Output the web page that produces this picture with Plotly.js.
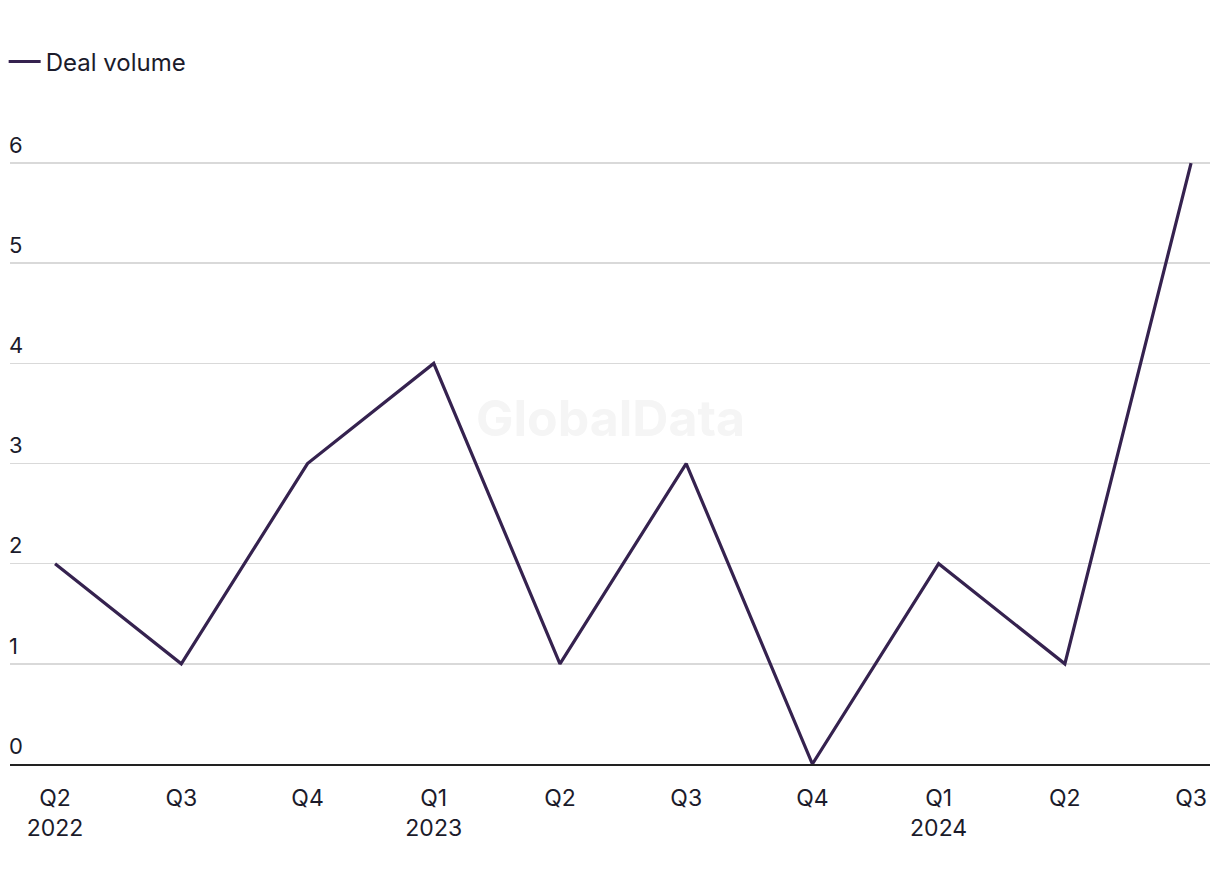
<!DOCTYPE html>
<html>
<head>
<meta charset="utf-8">
<script src="https://cdn.plot.ly/plotly-3.0.1.min.js"></script>
<style>html,body{margin:0;padding:0;background:#fff;}#chart{width:1220px;height:884px;}</style>
</head>
<body>
<div id="chart"></div>
<script>
const categories = ["Q2<br>2022","Q3","Q4","Q1<br>2023","Q2","Q3","Q4","Q1<br>2024","Q2","Q3"];
const dealVolume = [2,1,3,4,1,3,0,2,1,6];
const seriesName = "Deal volume";
const xIdx = categories.map((_, i) => i);

const trace = {
  x: xIdx,
  y: dealVolume,
  type: "scatter",
  mode: "lines",
  name: seriesName,
  line: {color: "#35224f", width: 3.2},
  hoverinfo: "skip"
};

const layout = {
  width: 1220,
  height: 884,
  margin: {l: 10, r: 10, t: 118, b: 120},
  paper_bgcolor: "#ffffff",
  plot_bgcolor: "#ffffff",
  font: {family: "Inter, 'Noto Sans', sans-serif", size: 22, color: "#1b1b2b"},
  showlegend: true,
  legend: {
    orientation: "h", xref: "container", yref: "container",
    x: 0.003, xanchor: "left", y: 0.93, yanchor: "middle",
    itemwidth: 32,
    font: {size: 24, color: "#1b1b2b"}, bgcolor: "rgba(0,0,0,0)"
  },
  xaxis: {
    range: [-0.357, 9.15],
    tickmode: "array",
    tickvals: xIdx,
    ticktext: categories,
    showgrid: false,
    zeroline: false,
    showline: true,
    linecolor: "#222222",
    linewidth: 2,
    ticks: "",
    automargin: false,
    ticklabelstandoff: 12,
    tickfont: {size: 23, color: "#1b1b2b"},
    fixedrange: true
  },
  yaxis: {
    range: [0, 6.45],
    tickvals: [0,1,2,3,4,5,6],
    showgrid: true,
    gridcolor: "#d9d9d9",
    gridwidth: 1.5,
    zeroline: false,
    showline: false,
    ticks: "",
    automargin: false,
    ticklabelposition: "inside",
    ticklabelshift: -18,
    ticklabelstandoff: -4,
    tickfont: {size: 22, color: "#1b1b2b"},
    fixedrange: true
  },
  annotations: [{
    text: "<b>GlobalData</b>",
    xref: "paper", yref: "paper",
    x: 0.5, y: 0.535, xanchor: "center", yanchor: "middle",
    showarrow: false,
    font: {size: 50, color: "#f5f5f5", family: "Inter, 'Noto Sans', sans-serif"}
  }]
};

Plotly.newPlot("chart", [trace], layout, {staticPlot: true, displayModeBar: false});
</script>
</body>
</html>
